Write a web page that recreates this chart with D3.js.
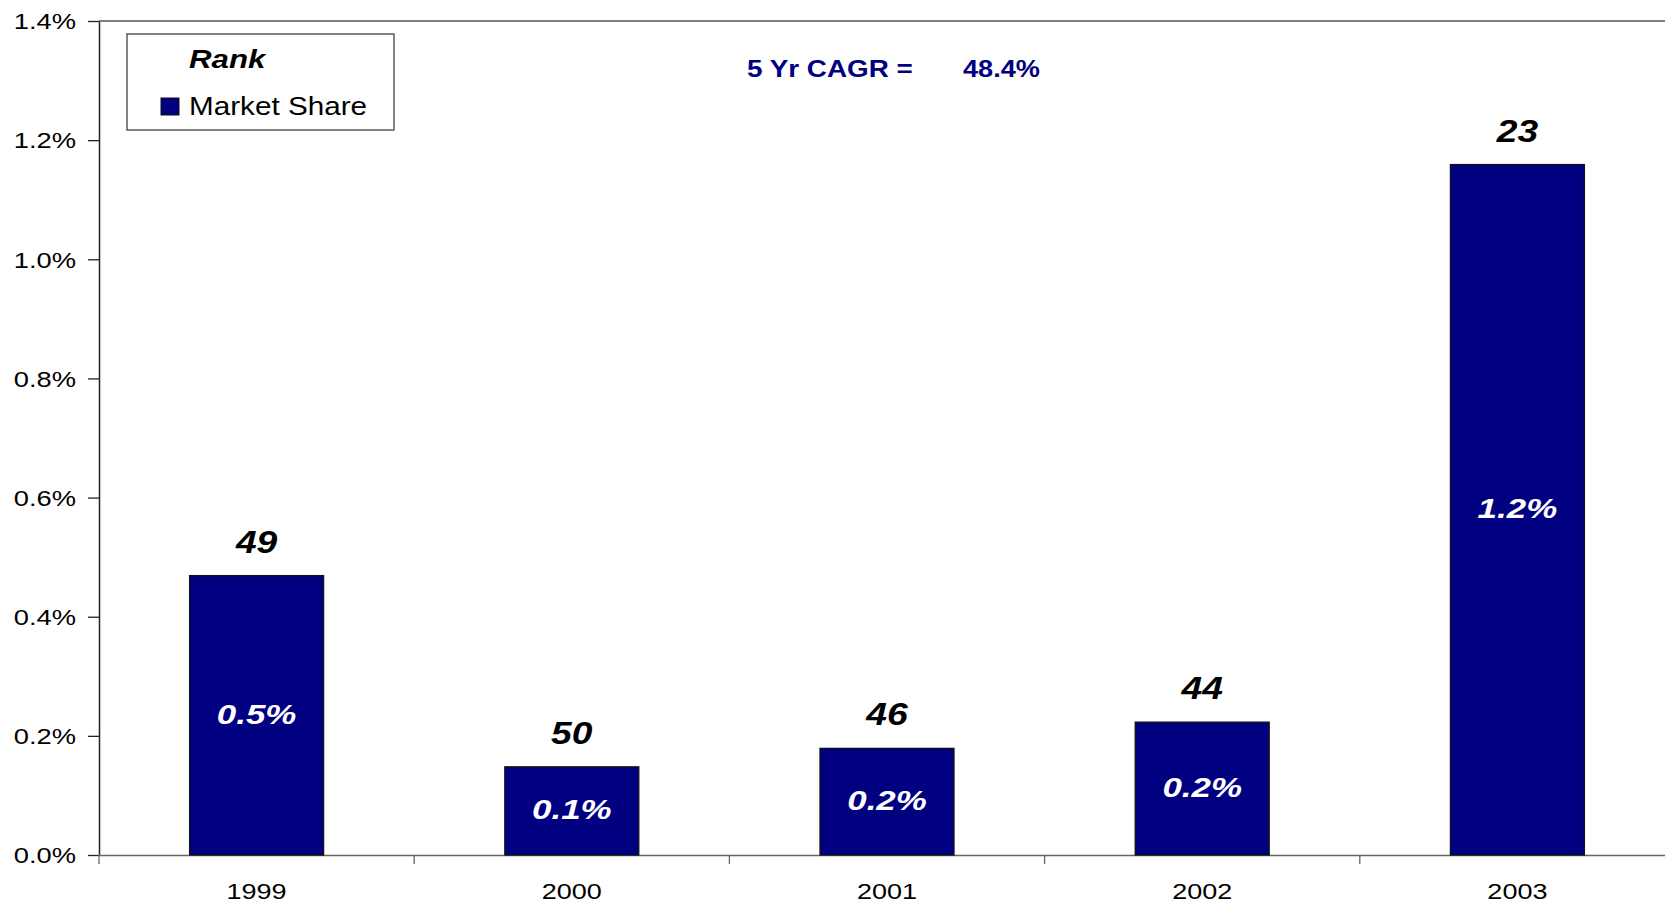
<!DOCTYPE html>
<html>
<head>
<meta charset="utf-8">
<script src="https://cdn.jsdelivr.net/npm/d3@7"></script>
<style>
  html, body { margin: 0; padding: 0; background: #fff; }
  svg { display: block; }
  text { font-family: Arial, "Liberation Sans", sans-serif; }
</style>
</head>
<body>
<svg id="chart" width="1665" height="904"></svg>
<script>
// ---- data ----
const years = ["1999", "2000", "2001", "2002", "2003"];
const marketShare = [0.469, 0.148, 0.179, 0.223, 1.159]; // percent
const shareLabels = ["0.5%", "0.1%", "0.2%", "0.2%", "1.2%"];
const ranks = [49, 50, 46, 44, 23];
const yTicks = [0, 0.2, 0.4, 0.6, 0.8, 1.0, 1.2, 1.4];
const legendTitle = "Rank";
const seriesName = "Market Share";
const cagrLabel = "5 Yr CAGR =";
const cagrValue = "48.4%";

(function () {
// ---- layout ----
const svg = d3.select("#chart");
const pLeft = 99, pRight = 1675, pTop = 21, pBottom = 855;
const navy = "#000080";

const x = d3.scaleBand().domain(years).range([pLeft, pRight])
  .paddingInner(0.575).paddingOuter(0.2875);
const y = d3.scaleLinear().domain([0, 1.4]).range([pBottom, pTop]);

// plot border (top)
svg.append("line").attr("x1", pLeft).attr("x2", pRight).attr("y1", pTop).attr("y2", pTop)
  .attr("stroke", "#555").attr("stroke-width", 1.3);

// y axis
const yAxis = svg.append("g").attr("transform", `translate(${pLeft},0)`)
  .call(d3.axisLeft(y).tickValues(yTicks).tickFormat(d => d.toFixed(1) + "%").tickSize(11).tickSizeOuter(0));
yAxis.select(".domain").attr("stroke", "#222").attr("stroke-width", 1.5);
yAxis.selectAll(".tick line").attr("stroke", "#222").attr("stroke-width", 1.3);
const ySx = 1.27;
yAxis.selectAll(".tick text")
  .attr("x", -23 / ySx).attr("dy", "0.36em")
  .attr("transform", `scale(${ySx},1)`)
  .attr("font-size", 21.5).attr("fill", "#000").attr("font-family", "Arial, 'Liberation Sans', sans-serif");

// x axis
const xAxis = svg.append("g").attr("transform", `translate(0,${pBottom})`)
  .call(d3.axisBottom(x).tickSize(0).tickSizeOuter(0));
xAxis.select(".domain").attr("stroke", "#666").attr("stroke-width", 1.5);
const xSx = 1.2;
xAxis.selectAll(".tick text")
  .attr("y", 44).attr("dy", 0)
  .attr("transform", `scale(${xSx},1)`)
  .attr("font-size", 22.5).attr("fill", "#000").attr("font-family", "Arial, 'Liberation Sans', sans-serif");

// boundary tick marks between categories
const step = x.step();
const bounds = d3.range(years.length + 1).map(i => x(years[0]) - x.paddingOuter() * step + i * step);
svg.append("g").selectAll("line").data(bounds).join("line")
  .attr("x1", d => d).attr("x2", d => d)
  .attr("y1", pBottom).attr("y2", pBottom + 9)
  .attr("stroke", "#666").attr("stroke-width", 1.3);

// bars
const data = years.map((yr, i) => ({ yr, v: marketShare[i], lab: shareLabels[i], rank: ranks[i] }));
svg.append("g").selectAll("rect").data(data).join("rect")
  .attr("x", d => x(d.yr)).attr("width", x.bandwidth())
  .attr("y", d => y(d.v)).attr("height", d => y(0) - y(d.v))
  .attr("fill", navy).attr("stroke", "#111").attr("stroke-width", 1.3);

// stretched text helper
function stext(parent, px, py, str, sx, opts) {
  const g = parent.append("g").attr("transform", `translate(${px},${py}) scale(${sx},1)`);
  const t = g.append("text").text(str)
    .attr("text-anchor", opts.anchor || "middle")
    .attr("font-size", opts.size)
    .attr("font-weight", opts.weight || "normal")
    .attr("font-style", opts.style || "normal")
    .attr("fill", opts.fill || "#000");
  if (opts.dy) t.attr("dy", opts.dy);
  return t;
}

// rank labels above bars
const labG = svg.append("g");
data.forEach(d => {
  stext(labG, x(d.yr) + x.bandwidth() / 2, y(d.v) - 23, String(d.rank), 1.2,
    { size: 31, weight: "bold", style: "italic" });
  stext(labG, x(d.yr) + x.bandwidth() / 2, (y(d.v) + y(0)) / 2, d.lab, 1.27,
    { size: 27.5, weight: "bold", style: "italic", fill: "#fff", dy: "0.3em" });
});

// legend
const lg = svg.append("g");
lg.append("rect").attr("x", 127).attr("y", 34).attr("width", 267).attr("height", 96)
  .attr("fill", "#fff").attr("stroke", "#333").attr("stroke-width", 1.2);
stext(lg, 189, 68, legendTitle, 1.25, { anchor: "start", size: 25, weight: "bold", style: "italic" });
lg.append("rect").attr("x", 161).attr("y", 98).attr("width", 18).attr("height", 17)
  .attr("fill", navy).attr("stroke", "#111").attr("stroke-width", 1);
stext(lg, 189, 115, seriesName, 1.12, { anchor: "start", size: 26.5 });

// CAGR annotation
stext(svg, 747, 77, cagrLabel, 1.16, { anchor: "start", size: 24, weight: "bold", fill: navy });
stext(svg, 963, 77, cagrValue, 1.13, { anchor: "start", size: 24, weight: "bold", fill: navy });
})();
</script>
</body>
</html>
